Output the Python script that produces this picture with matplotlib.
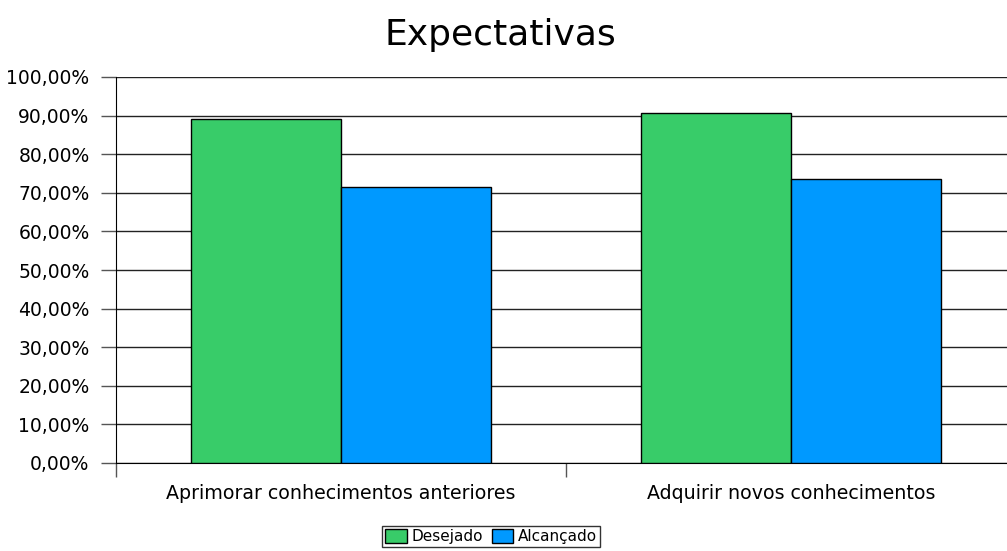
import matplotlib
matplotlib.use("Agg")
import matplotlib.pyplot as plt
import numpy as np

categories = ["Aprimorar conhecimentos anteriores", "Adquirir novos conhecimentos"]
series_names = ["Desejado", "Alcançado"]
desejado = [89.2, 90.7]
alcancado = [71.5, 73.7]
colors = ["#38cc69", "#0099ff"]
y_ticks = list(range(0, 101, 10))

W, H = 1007, 551
fig = plt.figure(figsize=(W / 100, H / 100), dpi=100)
ax = fig.add_axes([116 / W, 1 - 463 / H, 900 / W, 386 / H])

x = np.arange(len(categories)) + 0.5
bw = 1 / 3
for i, (vals, name) in enumerate(zip([desejado, alcancado], series_names)):
    ax.bar(x - bw / 2 + i * bw, vals, width=bw, color=colors[i], edgecolor="black",
           linewidth=1.0, label=name, zorder=3)

ax.set_xlim(0, len(categories))
ax.set_ylim(0, 100)
ax.set_yticks(y_ticks)
ax.set_yticklabels([f"{v},00%" for v in y_ticks], fontsize=13.5)
ax.yaxis.grid(True, color="#222222", linewidth=1.0, zorder=0)
ax.tick_params(axis="y", length=11, width=1, color="#555555", pad=8)

ax.set_xticks([0, 1, 2])
ax.set_xticklabels([])
ax.set_xticks(x, minor=True)
ax.set_xticklabels(categories, minor=True, fontsize=13.7)
ax.tick_params(axis="x", which="major", length=10, width=1, color="#555555", direction="out")
ax.tick_params(axis="x", which="minor", length=0, pad=15)

for s in ["top", "right"]:
    ax.spines[s].set_visible(False)
ax.spines["left"].set_color("black")
ax.spines["bottom"].set_color("black")

fig.text(500 / W, 1 - 35 / H, "Expectativas", fontsize=26, ha="center", va="center")

leg = fig.legend(loc="upper center", bbox_to_anchor=(491 / W, 1 - 526 / H), ncol=2, fontsize=11,
                 frameon=True, fancybox=False, edgecolor="black", handlelength=1.4,
                 handleheight=1.0, handletextpad=0.3, columnspacing=0.6, borderpad=0.2,
                 borderaxespad=0)
leg.get_frame().set_linewidth(1.0)

fig.savefig("out.png", dpi=100)
